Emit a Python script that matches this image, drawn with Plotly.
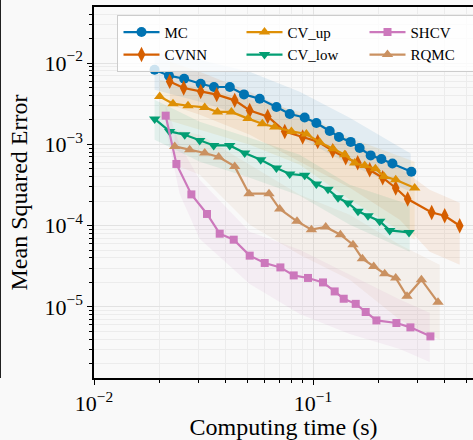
import plotly.graph_objects as go

# ---------------- data ----------------
mc_t = [0.0189, 0.0220, 0.0258, 0.0307, 0.0353, 0.0417, 0.0484, 0.0571, 0.0681, 0.0783,
        0.0916, 0.1036, 0.1192, 0.1314, 0.1486, 0.1633, 0.1834, 0.2052, 0.2305, 0.2813]
mc_err = [0.00827, 0.00698, 0.00641, 0.00556, 0.00507, 0.00507, 0.00411, 0.00364, 0.00288, 0.00236,
          0.00214, 0.00183, 0.00146, 0.00123, 0.00107, 0.00090, 0.00073, 0.00066, 0.00058, 0.00046]

cvnn_t = [0.02216, 0.02568, 0.03071, 0.03634, 0.04391, 0.0514, 0.0621, 0.0743, 0.0897, 0.1051,
          0.1230, 0.1410, 0.1600, 0.1815, 0.2081, 0.2386, 0.2706, 0.3483, 0.3994, 0.4677]
cvnn_err = [0.00594, 0.00493, 0.00447, 0.00408, 0.00347, 0.00261, 0.00220, 0.00144, 0.00123, 0.00108,
            0.000834, 0.000684, 0.000594, 0.000487, 0.000388, 0.000290, 0.000212, 0.000145, 0.000132, 0.0000997]

cvup_t = [0.01995, 0.02295, 0.02687, 0.03203, 0.03661, 0.04241, 0.0505, 0.05873, 0.06685, 0.07968,
          0.09331, 0.1073, 0.1234, 0.1395, 0.1550, 0.1722, 0.1927, 0.2110, 0.2386, 0.2913]
cvup_err = [0.00388, 0.00316, 0.00298, 0.00284, 0.00250, 0.00250, 0.00207, 0.00179, 0.00163, 0.00144,
            0.00134, 0.00106, 0.000883, 0.000745, 0.000589, 0.000550, 0.000501, 0.000403, 0.000367, 0.000290]

cvlow_t = [0.01893, 0.02216, 0.02596, 0.03038, 0.03521, 0.04166, 0.04876, 0.0577, 0.06808, 0.07827,
           0.09165, 0.1036, 0.1171, 0.1301, 0.1445, 0.1605, 0.1783, 0.2016, 0.2240, 0.2744]
cvlow_err = [0.00205, 0.00144, 0.00131, 0.00111, 0.000969, 0.000969, 0.000782, 0.000647, 0.000511, 0.000431,
             0.000415, 0.000325, 0.000279, 0.000220, 0.000190, 0.000150, 0.000132, 0.000113, 0.0000873, 0.0000825]

shcv_t = [0.02125, 0.02378, 0.02784, 0.03281, 0.0375, 0.04345, 0.0514, 0.0602, 0.07097, 0.08165,
          0.09489, 0.1111, 0.1256, 0.1381, 0.1567, 0.1740, 0.1948, 0.2404, 0.2785, 0.3437]
shcv_err = [0.00225, 0.000573, 0.000242, 0.000139, 0.0000795, 0.0000671, 0.0000427, 0.0000347, 0.0000306, 0.0000244,
            0.0000227, 0.0000200, 0.0000155, 0.0000126, 0.0000109, 0.00000866, 0.00000682, 0.00000634, 0.00000560, 0.00000434]

rqmc_t = [0.02336, 0.02735, 0.03203, 0.0371, 0.04391, 0.05104, 0.06297, 0.07047, 0.08452, 0.09833,
          0.1143, 0.1334, 0.1523, 0.1681, 0.1893, 0.2125, 0.2386, 0.2687, 0.3126, 0.3723]
rqmc_err = [0.000942, 0.000858, 0.000782, 0.000698, 0.000535, 0.000247, 0.000247, 0.000160, 0.000113, 0.0000891,
            0.0000961, 0.0000773, 0.0000582, 0.0000392, 0.0000315, 0.0000256, 0.0000227, 0.0000135, 0.0000216, 0.0000114]

# spread bands (lower / upper envelopes)
mc_band_t = [0.0189, 0.0304, 0.0514, 0.0870, 0.1471, 0.2793]
mc_band_hi = [0.01339, 0.01098, 0.00782, 0.00444, 0.002124, 0.000773]
mc_band_lo = [0.00469, 0.00334, 0.00212, 0.001205, 0.000561, 0.000261]

cvnn_band_t = [0.0222, 0.0304, 0.0514, 0.0870, 0.1471, 0.2488, 0.3411, 0.4677]
cvnn_band_hi = [0.01038, 0.00782, 0.00444, 0.002312, 0.001139, 0.000516, 0.000276, 0.000191]
cvnn_band_lo = [0.00307, 0.00231, 0.001312, 0.000611, 0.000292, 0.000118, 0.0000478, 0.0000330]

cvup_band_t = [0.01995, 0.0304, 0.0514, 0.0870, 0.1471, 0.2913]
cvup_band_hi = [0.00623, 0.00497, 0.00354, 0.00252, 0.001205, 0.000611]
cvup_band_lo = [0.00212, 0.001512, 0.000989, 0.000561, 0.000208, 0.0000671]

cvlow_band_t = [0.0189, 0.0304, 0.0514, 0.0870, 0.1471, 0.2765]
cvlow_band_hi = [0.00354, 0.001897, 0.001205, 0.000745, 0.000318, 0.000181]
cvlow_band_lo = [0.001139, 0.000611, 0.000388, 0.000233, 0.0001026, 0.0000478]

shcv_band_t = [0.02125, 0.02462, 0.0304, 0.0514, 0.0870, 0.1471, 0.2488, 0.3411]
shcv_band_hi = [0.00307, 0.000989, 0.000367, 0.0000841, 0.0000505, 0.0000249, 0.0000123, 0.00000849]
shcv_band_lo = [0.0016, 0.000245, 0.0000684, 0.0000191, 0.00000818, 0.00000464, 0.00000303, 0.0000021]

rqmc_band_t = [0.02336, 0.0304, 0.0514, 0.0870, 0.1471, 0.2488, 0.3789]
rqmc_band_hi = [0.001512, 0.001312, 0.000561, 0.00024, 0.000136, 0.0000582, 0.0000330]
rqmc_band_lo = [0.000561, 0.000423, 0.0001026, 0.0000439, 0.0000216, 0.00000696, 0.00000395]

x_tickvals = [0.01, 0.1]
x_ticktext = ["10<sup>\u22122</sup>", "10<sup>\u22121</sup>"]
y_tickvals = [1e-5, 1e-4, 1e-3, 1e-2]
y_ticktext = ["10<sup>\u22125</sup>", "10<sup>\u22124</sup>", "10<sup>\u22123</sup>", "10<sup>\u22122</sup>"]

# ---------------- styling ----------------
series = [
    # name, t, err, band_t, lo, hi, color, symbol, size, legendrank
    ("MC", mc_t, mc_err, mc_band_t, mc_band_lo, mc_band_hi, "#0173b2", "circle", 10, 1),
    ("CVNN", cvnn_t, cvnn_err, cvnn_band_t, cvnn_band_lo, cvnn_band_hi, "#d55e00", "diamond-tall", 11, 4),
    ("CV_up", cvup_t, cvup_err, cvup_band_t, cvup_band_lo, cvup_band_hi, "#de8f05", "triangle-up", 10, 2),
    ("CV_low", cvlow_t, cvlow_err, cvlow_band_t, cvlow_band_lo, cvlow_band_hi, "#029e73", "triangle-down", 10, 5),
    ("SHCV", shcv_t, shcv_err, shcv_band_t, shcv_band_lo, shcv_band_hi, "#cc78bc", "square", 8, 3),
    ("RQMC", rqmc_t, rqmc_err, rqmc_band_t, rqmc_band_lo, rqmc_band_hi, "#ca9161", "triangle-up", 10, 6),
]


def rgba(hexc, a):
    h = hexc.lstrip("#")
    r, g, b = int(h[0:2], 16), int(h[2:4], 16), int(h[4:6], 16)
    return f"rgba({r},{g},{b},{a})"


fig = go.Figure()
for name, t, e, bt, lo, hi, col, sym, sz, rank in series:
    fig.add_trace(go.Scatter(
        x=list(bt) + list(bt)[::-1], y=list(hi) + list(lo)[::-1],
        fill="toself", fillcolor=rgba(col, 0.09), line=dict(width=0),
        mode="lines", showlegend=False, hoverinfo="skip"))
for name, t, e, bt, lo, hi, col, sym, sz, rank in series:
    fig.add_trace(go.Scatter(
        x=t, y=e, name=name, mode="lines+markers", legendrank=rank,
        line=dict(color=col, width=2.2),
        marker=dict(symbol=sym, size=sz, color=col, line=dict(width=0))))

FONT = "Liberation Serif"
minor_x = [m * 10.0 ** k for k in (-2, -1) for m in range(2, 10)]
minor_y = [m * 10.0 ** k for k in (-6, -5, -4, -3, -2) for m in range(2, 10)]

fig.update_layout(
    width=473, height=440,
    margin=dict(l=94, r=0, t=7, b=62, autoexpand=False),
    paper_bgcolor="#f9f9f9", plot_bgcolor="#f9f9f9",
    font=dict(family=FONT, size=22, color="black"),
    showlegend=True,
    legend=dict(
        x=0.062, y=0.979, xanchor="left", yanchor="top",
        orientation="h", entrywidth=72, entrywidthmode="pixels",
        bgcolor="rgba(255,255,255,0.8)", bordercolor="#cccccc", borderwidth=1,
        font=dict(family=FONT, size=15), tracegroupgap=0, itemwidth=36,
    ),
    xaxis=dict(
        type="log", range=[-2, -2 + 379 / 219], automargin=False,
        tickvals=x_tickvals, ticktext=x_ticktext,
        ticks="outside", ticklen=5, tickwidth=1, tickcolor="black",
        showline=True, linecolor="black", linewidth=1.5, mirror=True,
        showgrid=True, gridcolor="#e2e2e2", gridwidth=1, zeroline=False,
        minor=dict(tickvals=minor_x, ticks="outside", ticklen=3, tickcolor="black",
                   showgrid=True, gridcolor="#ececec", gridwidth=1),
        title=dict(text="Computing time (s)", font=dict(size=24), standoff=4),
        tickfont=dict(size=22),
    ),
    yaxis=dict(
        type="log", range=[-5.8745, -1.3112], automargin=False,
        tickvals=y_tickvals, ticktext=y_ticktext,
        ticks="outside", ticklen=5, tickwidth=1, tickcolor="black",
        showline=True, linecolor="black", linewidth=1.5, mirror=True,
        showgrid=True, gridcolor="#e2e2e2", gridwidth=1, zeroline=False,
        minor=dict(tickvals=minor_y, ticks="outside", ticklen=3, tickcolor="black",
                   showgrid=True, gridcolor="#ececec", gridwidth=1),
        title=dict(text="Mean Squared Error", font=dict(size=24), standoff=10),
        tickfont=dict(size=22),
    ),
    shapes=[dict(type="line", xref="paper", yref="paper",
                 x0=-0.2477, x1=-0.2477, y0=0, y1=1.03,
                 line=dict(color="black", width=1.5))],
)

fig.write_html("out.html",
               config={"displayModeBar": False},
               post_script="document.body.style.margin='0';document.body.style.background='#f9f9f9';")
